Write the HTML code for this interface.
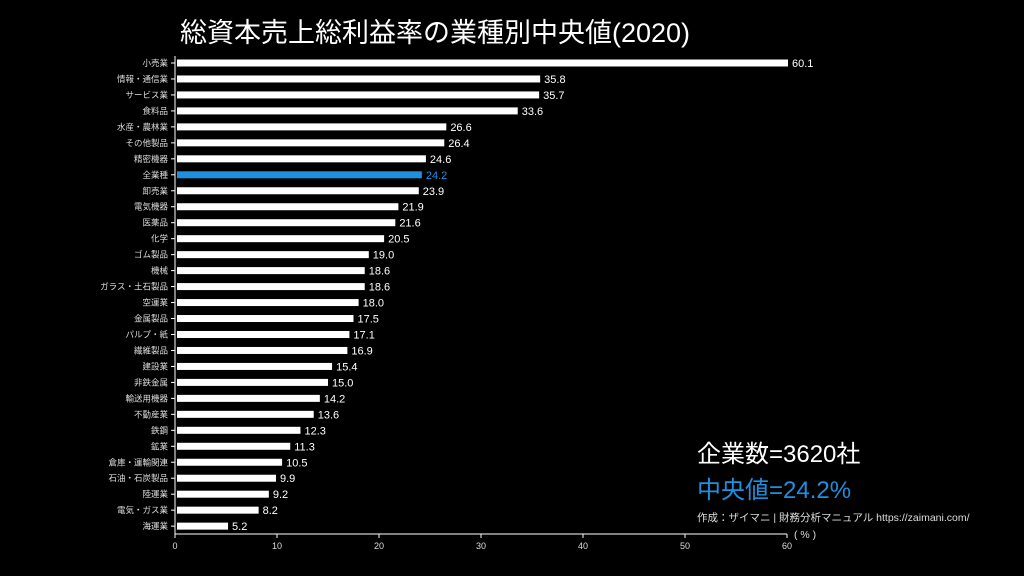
<!DOCTYPE html>
<html><head><meta charset="utf-8"><style>
body{margin:0;background:#000;}
svg{display:block;font-family:"Liberation Sans","Noto Sans CJK JP",sans-serif;}
</style></head><body>
<svg id="c" width="1024" height="576" viewBox="0 0 1024 576">
<rect width="1024" height="576" fill="#000"/>
<text x="180" y="42" fill="#fff" font-size="27">総資本売上総利益率の業種別中央値(2020)</text>
<g id="plot"></g>
<text x="697" y="462" fill="#fff" font-size="24">企業数=3620社</text>
<text x="697" y="498" fill="#1e90e0" font-size="24">中央値=24.2%</text>
<text x="697" y="521" fill="#ddd" font-size="10.5">作成：ザイマニ | 財務分析マニュアル https://zaimani.com/</text>
<text x="794" y="538" fill="#ddd" font-size="10.5">( % )</text>
</svg>
<script>
const categories=["小売業","情報・通信業","サービス業","食料品","水産・農林業","その他製品","精密機器","全業種","卸売業","電気機器","医薬品","化学","ゴム製品","機械","ガラス・土石製品","空運業","金属製品","パルプ・紙","繊維製品","建設業","非鉄金属","輸送用機器","不動産業","鉄鋼","鉱業","倉庫・運輸関連","石油・石炭製品","陸運業","電気・ガス業","海運業"];
const values=[60.1,35.8,35.7,33.6,26.6,26.4,24.6,24.2,23.9,21.9,21.6,20.5,19.0,18.6,18.6,18.0,17.5,17.1,16.9,15.4,15.0,14.2,13.6,12.3,11.3,10.5,9.9,9.2,8.2,5.2];
const highlight="全業種";
const xTicks=[0,10,20,30,40,50,60];
const x0=175,x1=787,xMax=60,yTop=63,yStep=15.97;
const xs=v=>x0+(v/xMax)*(x1-x0);
const ys=i=>yTop+i*yStep;
const NS="http://www.w3.org/2000/svg";
const g=document.getElementById('plot');
function mk(t,a){const e=document.createElementNS(NS,t);for(const k in a)e.setAttribute(k,a[k]);g.appendChild(e);return e;}
const ax=mk('line',{x1:x0,y1:56,x2:x0,y2:534,stroke:'#fff','stroke-width':1});


const bx=mk('line',{x1:x0,y1:534,x2:x1,y2:534,stroke:'#fff','stroke-width':1});


xTicks.forEach(t=>{
 const tk=mk('line',{x1:xs(t),y1:534,x2:xs(t),y2:538,stroke:'#fff'});
 
 
 const tl=mk('text',{x:xs(t),y:549,fill:'#ddd','font-size':9,'text-anchor':'middle'});
 tl.textContent=t;
 
 
});
categories.forEach((c,i)=>{
 const y=ys(i),hl=c===highlight,col=hl?'#1e90e0':'#fff';
 const tk=mk('line',{x1:x0-4,y1:y,x2:x0,y2:y,stroke:'#fff'});
 
 
 const lb=mk('text',{x:x0-7,y:y+3,fill:'#ddd','font-size':8.5,'text-anchor':'end'});
 lb.textContent=c;
 
 
 const b=mk('rect',{x:x0+2,y:y-3.5,width:xs(values[i])-x0-2,height:7,fill:col});
 
 
 const vl=mk('text',{x:xs(values[i])+4,y:y+4,fill:hl?'#1e90e0':'#fff','font-size':11});
 vl.textContent=values[i].toFixed(1);
 
 
});
</script>
</body></html>
